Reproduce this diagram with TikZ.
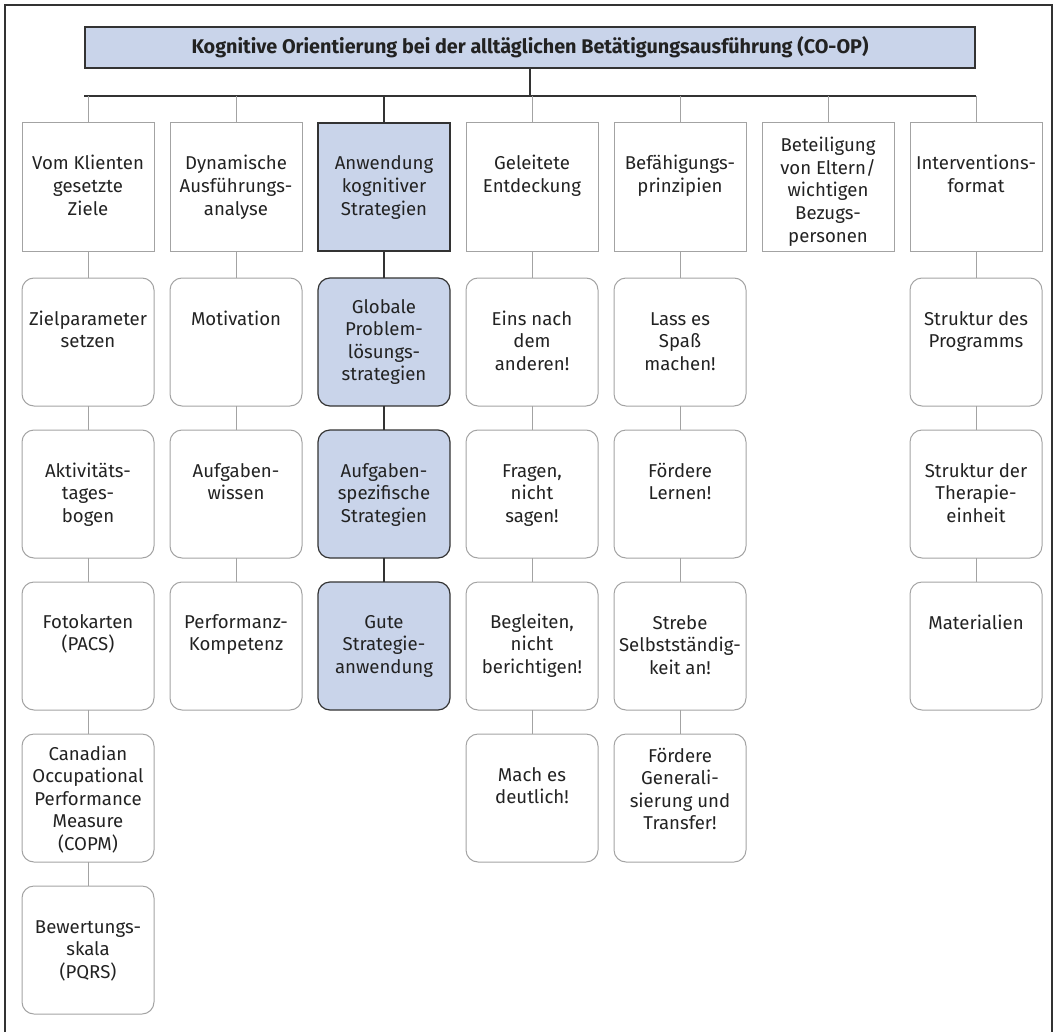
\documentclass[tikz,border=0pt]{standalone}
\usepackage{fontspec}
\setmainfont{Fira Sans}
\definecolor{boxblue}{HTML}{C9D4EA}
\definecolor{boxgray}{HTML}{A3A3A3}
\definecolor{darkline}{HTML}{333333}
\definecolor{textcol}{HTML}{222222}
\newcommand\fl{\rule{0pt}{18pt}}
\newcommand\bx[6]{\node[#2] (#1) at (#3,#4) {};\node[txt] (#1t) at ([yshift=-#5pt+18pt]#1.north) {\fl #6};}
\begin{document}
\begin{tikzpicture}[x=1pt,y=-1pt,
  every node/.style={inner sep=0pt, outer sep=0pt},
  sq/.style={draw=boxgray, line width=1pt, minimum width=132pt, minimum height=128pt, anchor=north},
  rd/.style={sq, rounded corners=12pt},
  bsq/.style={sq, fill=boxblue, draw=darkline, line width=1.2pt},
  brd/.style={rd, fill=boxblue, draw=darkline, line width=1.2pt},
  txt/.style={anchor=north, align=center, text=textcol, font=\fontsize{18.6pt}{22.5pt}\selectfont},
  gl/.style={draw=boxgray, line width=1pt},
  dl/.style={draw=darkline, line width=1.2pt}]
\useasboundingbox (0,0) rectangle (1056,1032);
\draw[darkline, line width=1.2pt] (5,1032) -- (5,5) -- (1052,5) -- (1052,1032);
% title
\node[draw=darkline, line width=1.2pt, fill=boxblue, minimum width=890pt, minimum height=41pt, text=textcol, font=\fontsize{19.8pt}{22.5pt}\selectfont\bfseries] (title) at (530,47.5) {Kognitive Orientierung bei der alltäglichen Betätigungsausführung (CO-OP)};
\coordinate (hl) at (84,96);
\coordinate (hr) at (976,96);
\coordinate (hm) at (530,96);
\draw[dl] (hl) -- (hr);
\draw[dl] (title.south) -- (hm);
% column 1
\bx{a1}{sq}{88}{123}{47}{Vom Klienten\\gesetzte\\Ziele}
\bx{a2}{rd}{88}{278}{47}{Zielparameter\\setzen}
\bx{a3}{rd}{88}{430}{47}{Aktivitäts-\\tages-\\bogen}
\bx{a4}{rd}{88}{582}{46}{Fotokarten\\(PACS)}
\bx{a5}{rd}{88}{734}{26}{Canadian\\Occupational\\Performance\\Measure\\(COPM)}
\bx{a6}{rd}{88}{886}{47}{Bewertungs-\\skala\\(PQRS)}
% column 2
\bx{b1}{sq}{236}{123}{47}{Dynamische\\Ausführungs-\\analyse}
\bx{b2}{rd}{236}{278}{47}{Motivation}
\bx{b3}{rd}{236}{430}{47}{Aufgaben-\\wissen}
\bx{b4}{rd}{236}{582}{46}{Performanz-\\Kompetenz}
% column 3
\bx{c1}{bsq}{384}{123}{47}{Anwendung\\kognitiver\\Strategien}
\bx{c2}{brd}{384}{278}{35}{Globale\\Problem-\\lösungs-\\strategien}
\bx{c3}{brd}{384}{430}{47}{Aufgaben-\\spezifische\\Strategien}
\bx{c4}{brd}{384}{582}{46}{Gute\\Strategie-\\anwendung}
% column 4
\bx{d1}{sq}{532}{123}{47}{Geleitete\\Entdeckung}
\bx{d2}{rd}{532}{278}{47}{Eins nach\\dem\\anderen!}
\bx{d3}{rd}{532}{430}{47}{Fragen,\\nicht\\sagen!}
\bx{d4}{rd}{532}{582}{46}{Begleiten,\\nicht\\berichtigen!}
\bx{d5}{rd}{532}{734}{47}{Mach es\\deutlich!}
% column 5
\bx{e1}{sq}{680}{123}{47}{Befähigungs-\\prinzipien}
\bx{e2}{rd}{680}{278}{47}{Lass es\\Spaß\\machen!}
\bx{e3}{rd}{680}{430}{47}{Fördere\\Lernen!}
\bx{e4}{rd}{680}{582}{47}{Strebe\\Selbstständig-\\keit an!}
\bx{e5}{rd}{680}{734}{28}{Fördere\\Generali-\\sierung und\\Transfer!}
% column 6
\bx{f1}{sq}{828}{123}{29}{Beteiligung\\von Eltern/\\wichtigen\\Bezugs-\\personen}
% column 7
\bx{g1}{sq}{976}{123}{47}{Interventions-\\format}
\bx{g2}{rd}{976}{278}{47}{Struktur des\\Programms}
\bx{g3}{rd}{976}{430}{47}{Struktur der\\Therapie-\\einheit}
\bx{g4}{rd}{976}{582}{47}{Materialien}
% drops from the horizontal line
\foreach \n in {a1,b1,d1,e1,f1,g1} {\draw[gl] (\n.north) -- (\n.north |- hl);}
\draw[dl] (c1.north) -- (c1.north |- hl);
% vertical connectors
\draw[gl] (a1.south) -- (a2.north);
\draw[gl] (a2.south) -- (a3.north);
\draw[gl] (a3.south) -- (a4.north);
\draw[gl] (a4.south) -- (a5.north);
\draw[gl] (a5.south) -- (a6.north);
\draw[gl] (b1.south) -- (b2.north);
\draw[gl] (b2.south) -- (b3.north);
\draw[gl] (b3.south) -- (b4.north);
\draw[dl] (c1.south) -- (c2.north);
\draw[dl] (c2.south) -- (c3.north);
\draw[dl] (c3.south) -- (c4.north);
\draw[gl] (d1.south) -- (d2.north);
\draw[gl] (d2.south) -- (d3.north);
\draw[gl] (d3.south) -- (d4.north);
\draw[gl] (d4.south) -- (d5.north);
\draw[gl] (e1.south) -- (e2.north);
\draw[gl] (e2.south) -- (e3.north);
\draw[gl] (e3.south) -- (e4.north);
\draw[gl] (e4.south) -- (e5.north);
\draw[gl] (g1.south) -- (g2.north);
\draw[gl] (g2.south) -- (g3.north);
\draw[gl] (g3.south) -- (g4.north);
\end{tikzpicture}
\end{document}
